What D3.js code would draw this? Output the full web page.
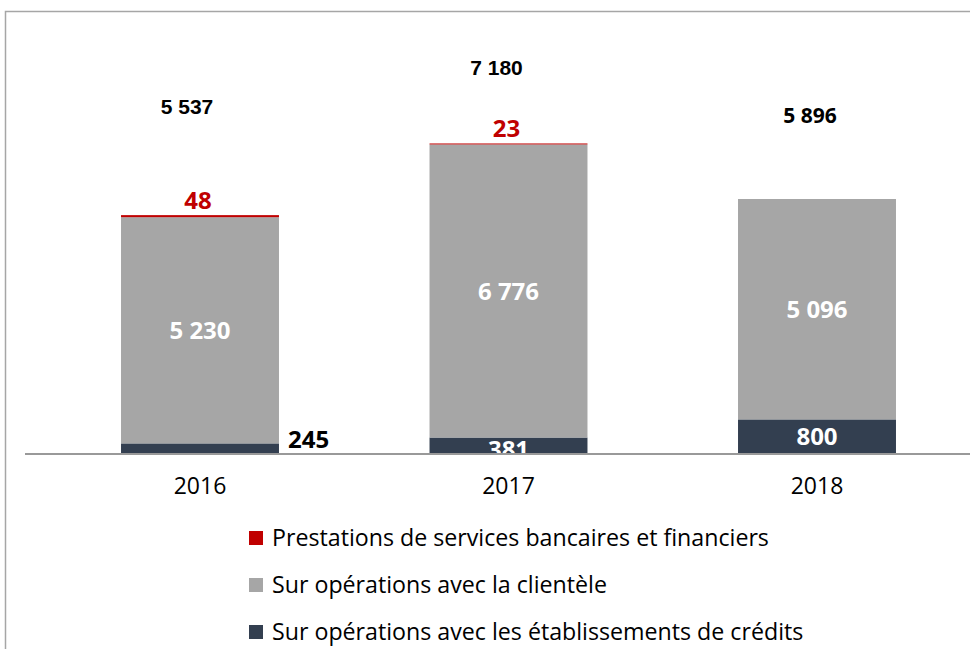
<!DOCTYPE html>
<html>
<head>
<meta charset="utf-8">
<script src="https://cdn.jsdelivr.net/npm/d3@7"></script>
<style>
  html, body { margin: 0; padding: 0; background: #fff; }
  svg { display: block; }
</style>
</head>
<body>
<div id="chart"></div>
<script>
const width = 970;
const height = 649;

// données
const years = ['2016', '2017', '2018'];
const etablissements = [245, 381, 800];
const clientele = [5230, 6776, 5096];
const prestations = [48, 23, 0];
const totals = [5537, 7180, 5896];
const totalLabels = ['5 537', '7 180', '5 896'];
const seriesNames = [
  'Prestations de services bancaires et financiers',
  'Sur opérations avec la clientèle',
  'Sur opérations avec les établissements de crédits'
];
const colors = ['#c00000', '#a6a6a6', '#333f50'];

// décalages des totaux (mise en page)
const totalOffsets = [[-13, -108], [-12, -76], [-7, -84]];
const totalFonts = ['Liberation Sans', 'Liberation Sans', 'Open Sans'];

const baseY = 454;

const x = d3.scaleBand()
  .domain(years)
  .range([43.9, 973.1])
  .paddingInner(0.488)
  .paddingOuter(0.25);

const y = d3.scaleLinear()
  .domain([0, 8000])
  .range([baseY, baseY - 8000 * 0.04325]);

const rows = years.map((yr, i) => ({
  year: yr,
  etab: etablissements[i],
  client: clientele[i],
  prest: prestations[i],
  total: totals[i],
  totalLabel: totalLabels[i]
}));

const stack = d3.stack().keys(['etab', 'client', 'prest']);
const stacked = stack(rows);
const keyColor = {etab: colors[2], client: colors[1], prest: colors[0]};

const svg = d3.select('#chart').append('svg')
  .attr('width', width)
  .attr('height', height);

// cadre
svg.append('rect')
  .attr('x', 5.5).attr('y', 11.5)
  .attr('width', 1000).attr('height', 700)
  .attr('fill', 'none')
  .attr('stroke', '#a6a6a6')
  .attr('stroke-width', 1.5);

// barres
svg.append('g')
  .selectAll('g').data(stacked).join('g')
  .attr('fill', d => keyColor[d.key])
  .selectAll('rect').data(d => d).join('rect')
  .attr('x', d => x(d.data.year))
  .attr('y', d => y(d[1]))
  .attr('width', x.bandwidth())
  .attr('height', d => y(d[0]) - y(d[1]));

const bw = x.bandwidth();

// étiquettes clientèle (blanc)
svg.append('g')
  .selectAll('text').data(rows).join('text')
  .attr('x', d => x(d.year) + bw / 2)
  .attr('y', d => (y(d.etab) + y(d.etab + d.client)) / 2)
  .attr('dy', '0.36em')
  .attr('text-anchor', 'middle')
  .attr('font-family', 'Open Sans, sans-serif')
  .attr('font-weight', 'bold')
  .attr('font-size', 24)
  .attr('fill', '#fff')
  .text(d => d3.format(',')(d.client).replace(',', ' '));

// étiquettes prestations (rouge)
svg.append('g')
  .selectAll('text').data(rows.filter(d => d.prest > 0)).join('text')
  .attr('x', d => x(d.year) + bw / 2 - 2)
  .attr('y', d => y(d.etab + d.client + d.prest) - 15)
  .attr('dy', '0.36em')
  .attr('text-anchor', 'middle')
  .attr('font-family', 'Open Sans, sans-serif')
  .attr('font-weight', 'bold')
  .attr('font-size', 24)
  .attr('fill', colors[0])
  .text(d => d.prest);

// étiquettes établissements
const etabG = svg.append('g')
  .attr('font-family', 'Open Sans, sans-serif')
  .attr('font-weight', 'bold')
  .attr('font-size', 24);
etabG.selectAll('text').data(rows).join('text')
  .attr('x', (d, i) => i === 0 ? x(d.year) + bw + 9 : x(d.year) + bw / 2)
  .attr('y', (d, i) => i === 0 ? y(d.etab) - 4 : (i === 1 ? baseY - 5 : (y(d.etab) + baseY) / 2))
  .attr('dy', '0.36em')
  .attr('text-anchor', (d, i) => i === 0 ? 'start' : 'middle')
  .attr('fill', (d, i) => i === 0 ? '#000' : '#fff')
  .text(d => d.etab);

// totaux
svg.append('g')
  .selectAll('text').data(rows).join('text')
  .attr('x', (d, i) => x(d.year) + bw / 2 + totalOffsets[i][0])
  .attr('y', (d, i) => y(d.total) + totalOffsets[i][1])
  .attr('dy', '0.36em')
  .attr('text-anchor', 'middle')
  .attr('font-family', (d, i) => totalFonts[i] + ', sans-serif')
  .attr('font-weight', 'bold')
  .attr('font-size', 21)
  .attr('fill', '#000')
  .text(d => d.totalLabel);

// axe des abscisses
const xAxis = g => g
  .attr('transform', `translate(0, ${baseY})`)
  .call(d3.axisBottom(x).tickSize(0).tickPadding(24))
  .call(g => g.select('.domain').remove())
  .call(g => g.selectAll('text')
    .attr('font-family', 'Open Sans, sans-serif')
    .attr('font-size', 23)
    .attr('fill', '#000'));
svg.append('g').call(xAxis);

svg.append('line')
  .attr('x1', 25).attr('x2', width)
  .attr('y1', baseY).attr('y2', baseY)
  .attr('stroke', '#999')
  .attr('stroke-width', 2);

// légende
const legend = svg.append('g')
  .selectAll('g').data(seriesNames).join('g')
  .attr('transform', (d, i) => `translate(249, ${538 + i * 47})`);
legend.append('rect')
  .attr('x', 0).attr('y', -7)
  .attr('width', 14).attr('height', 14)
  .attr('fill', (d, i) => colors[i]);
legend.append('text')
  .attr('x', 23)
  .attr('dy', '0.36em')
  .attr('font-family', 'Open Sans, sans-serif')
  .attr('font-size', 23.2)
  .attr('fill', '#000')
  .text(d => d);
</script>
</body>
</html>
